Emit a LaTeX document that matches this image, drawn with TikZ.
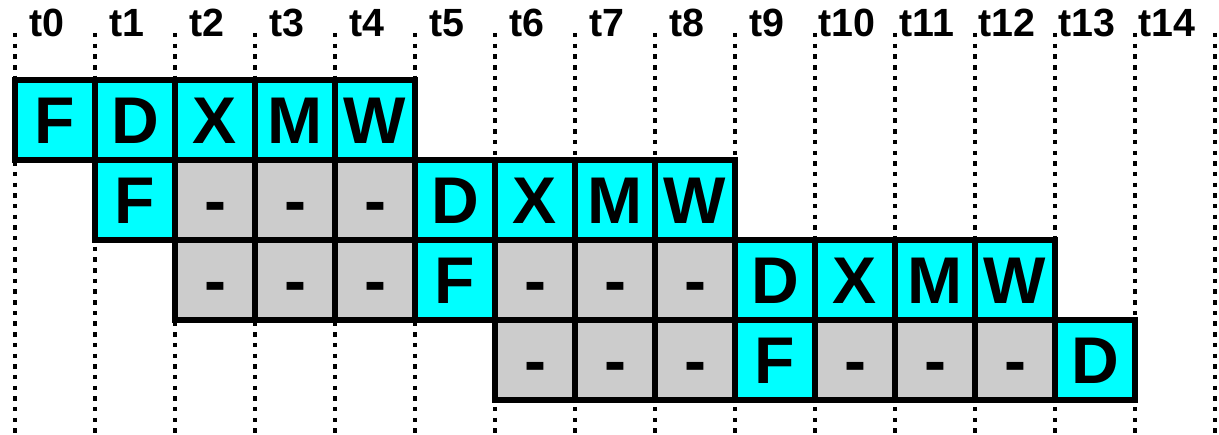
\documentclass[tikz,border=0pt]{standalone}
\usepackage{fontspec}
\setmainfont{Liberation Sans}
\definecolor{stagecyan}{HTML}{00FFFF}
\definecolor{stallgray}{HTML}{CCCCCC}
\tikzset{
  stage/.style={draw=black,line width=1.8pt,fill=stagecyan,minimum size=1cm,inner sep=0pt,
    text height=0.6cm,text depth=0pt,font=\bfseries\fontsize{23.5}{23.5}\selectfont},
  stall/.style={stage,fill=stallgray},
  timelabel/.style={anchor=base,inner sep=0pt,font=\bfseries\fontsize{14}{14}\selectfont},
  timeline/.style={line width=1.6pt,dash pattern=on 1.6pt off 2.2pt}
}

\begin{document}
\begin{tikzpicture}
            \useasboundingbox (-0.1875,-4.4375) rectangle (15.05,1.0);
            % dotted time lines and their labels
            \foreach \i in {0,...,15}
                \draw[timeline] (\i,0.5875) -- (\i,-4.4375);
            \foreach \i in {0,...,14}
                \node[timelabel] (t\i) at (\i+0.4,0.54) {t\i};
            % first instruction
            \foreach \x/\txt in {0/F,1/D,2/X,3/M,4/W}
                \node[stage] (a\x) at (\x+0.5,-0.5) {\txt};
            % second instruction
            \node[stage] (b1) at (1.5,-1.5) {F};
            \foreach \x in {2,3,4}
                \node[stall] (b\x) at (\x+0.5,-1.5) {-};
            \foreach \x/\txt in {5/D,6/X,7/M,8/W}
                \node[stage] (b\x) at (\x+0.5,-1.5) {\txt};
            % third instruction
            \foreach \x in {2,3,4,6,7,8}
                \node[stall] (c\x) at (\x+0.5,-2.5) {-};
            \node[stage] (c5) at (5.5,-2.5) {F};
            \foreach \x/\txt in {9/D,10/X,11/M,12/W}
                \node[stage] (c\x) at (\x+0.5,-2.5) {\txt};
            % fourth instruction
            \foreach \x in {6,7,8,10,11,12}
                \node[stall] (d\x) at (\x+0.5,-3.5) {-};
            \node[stage] (d9) at (9.5,-3.5) {F};
            \node[stage] (d13) at (13.5,-3.5) {D};
\end{tikzpicture}
\end{document}
